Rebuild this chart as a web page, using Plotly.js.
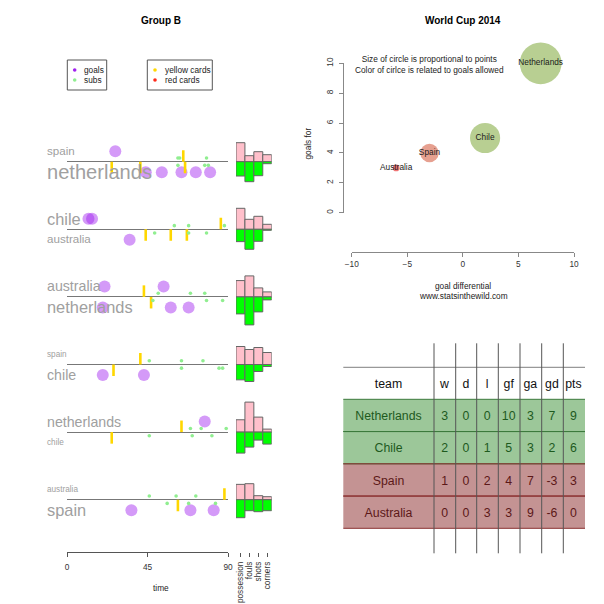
<!DOCTYPE html>
<html><head><meta charset="utf-8">
<script src="https://cdn.plot.ly/plotly-3.0.1.min.js"></script>
<style>html,body{margin:0;padding:0;background:#fff}#chart{width:604px;height:604px}</style>
</head><body><div id="chart"></div>
<script>
// ================= DATA =================
// Group B matches: top team listed first, bottom team second
const topTeams    = ['spain', 'chile', 'australia', 'spain', 'netherlands', 'australia'];
const bottomTeams = ['netherlands', 'australia', 'netherlands', 'chile', 'chile', 'spain'];

// goal minutes
const goalsTop    = [[27], [12, 14, 92], [21, 54], [], [77, 92], []];
const goalsBottom = [[44, 53, 64, 72, 80], [35], [20, 58, 68], [20, 43], [], [36, 69, 82]];

// yellow card minutes
const yellowTop    = [[65], [86], [43], [41], [64], [88, 92]];
const yellowBottom = [[25, 41, 66], [44, 58, 67], [47], [26], [25], [62]];

// substitution minutes
const subsTop    = [[62, 63, 78], [60, 68, 88], [51, 69, 77], [46, 64, 76], [69, 75, 89], [46, 61, 72]];
const subsBottom = [[62, 77, 79], [49, 68, 78], [48, 78, 87], [64, 85, 87], [46, 70, 81], [56, 68, 83]];

// match stats: possession (%), fouls, shots, corners
const statNames   = ['possession', 'fouls', 'shots', 'corners'];
const statsTop    = [[57, 6, 10, 7], [63, 10, 13, 5], [49, 21, 9, 5], [54, 15, 17, 12], [37, 30, 15, 3], [46, 16, 4, 3]];
const statsBottom = [[43, 20, 14, 2], [37, 20, 12, 1], [51, 28, 15, 3], [46, 17, 7, 2], [63, 15, 8, 12], [54, 11, 12, 11]];

const timeTicks = [0, 45, 90];

// group table
const teams = ['Netherlands', 'Chile', 'Spain', 'Australia'];
const won   = [3, 2, 1, 0];
const drawn = [0, 0, 0, 0];
const lost  = [0, 1, 2, 3];
const gf    = [10, 5, 4, 3];
const ga    = [3, 3, 7, 9];
const gdiff = [7, 2, -3, -6];
const pts   = [9, 6, 3, 0];
const tableHeaders = ['team', 'w', 'd', 'l', 'gf', 'ga', 'gd', 'pts'];

const gdTicks = [-10, -5, 0, 5, 10];
const gfTicks = [0, 2, 4, 6, 8, 10];

// ================= STYLE / LAYOUT =================
const W = 604, H = 604;
const fx = p => p / W;
const fy = p => 1 - p / H;
const FONT = 'Liberation Sans, Arial, Helvetica, sans-serif';
const FS = 8.3;

const rowY0 = 161.7, rowStep = 67.6, half = 33, unit = 10.5;
const statScale = [1 / 3, 1, 1, 1];
const goalColor = 'rgba(160,32,240,0.45)';
const subColor = '#90ee90';
const yellowColor = '#ffd700';
const labelColor = '#a0a0a0';
const gaColor = {3: '#b8cf92', 7: '#e6a090', 9: '#f07575'};

const traces = [];
const shapes = [];
const annotations = [];
const layout = {
  width: W, height: H, margin: {l: 0, r: 0, t: 0, b: 0},
  paper_bgcolor: '#fff', plot_bgcolor: 'rgba(0,0,0,0)',
  showlegend: false, barmode: 'overlay', bargap: 0,
  font: {family: FONT, size: FS, color: '#333'},
  shapes: shapes, annotations: annotations
};

// helper for paper-positioned text
function label(px, py, text, size, color, extra) {
  annotations.push(Object.assign({xref: 'paper', yref: 'paper', x: fx(px), y: fy(py), xanchor: 'center', yanchor: 'middle',
    text: text, showarrow: false, font: {family: FONT, size: size, color: color}}, extra || {}));
}

layout.xaxis = {
  domain: [fx(67), fx(228)], range: [0, 90], anchor: 'free', position: fy(552.3),
  tickmode: 'array', tickvals: timeTicks, ticks: 'outside', ticklen: 4, tickcolor: '#555', ticklabelstandoff: 3,
  showline: true, linecolor: '#555', linewidth: 1, showgrid: false, zeroline: false,
  tickfont: {family: FONT, size: FS, color: '#333'}
};
layout.xaxis2 = {
  domain: [fx(236), fx(271.7)], type: 'category', categoryorder: 'array', categoryarray: statNames,
  range: [-0.5, 3.5], anchor: 'free', position: fy(552.3),
  tickmode: 'array', tickvals: statNames, ticktext: statNames,
  ticks: 'outside', ticklen: 4, tickcolor: '#555', tickangle: -90, ticklabelstandoff: 1,
  showline: false, showgrid: false, zeroline: false,
  tickfont: {family: FONT, size: FS, color: '#333'}
};

const axKey = id => id === 'y' ? 'yaxis' : 'yaxis' + id.slice(1);
const sideText = (arr, s) => arr.map(() => s);
const cardXs = arr => { const o = []; arr.forEach(m => o.push(m, m, null)); return o; };
const cardYs = (arr, s) => { const o = []; arr.forEach(() => o.push(0, s * 1.1, null)); return o; };

for (let i = 0; i < 6; i++) {
  const cy = rowY0 + i * rowStep;
  const dom = [fy(cy + half), fy(cy - half)];
  const ty = i === 0 ? 'y' : 'y' + (i + 1);
  const by = 'y' + (i + 7);
  layout[axKey(ty)] = {
    domain: dom, range: [-half / unit, half / unit], anchor: 'x',
    showticklabels: false, ticks: '', showgrid: false, showline: false,
    zeroline: true, zerolinecolor: '#777', zerolinewidth: 1
  };
  layout[axKey(by)] = {
    domain: dom, range: [-half, half], anchor: 'x2',
    showticklabels: false, ticks: '', showgrid: false, showline: false, zeroline: false
  };

  // goals
  traces.push({x: goalsTop[i], y: sideText(goalsTop[i], 1), xaxis: 'x', yaxis: ty, type: 'scatter', mode: 'markers',
    marker: {size: 12, color: goalColor}, cliponaxis: false, hoverinfo: 'skip'});
  traces.push({x: goalsBottom[i], y: sideText(goalsBottom[i], -1), xaxis: 'x', yaxis: ty, type: 'scatter', mode: 'markers',
    marker: {size: 12, color: goalColor}, cliponaxis: false, hoverinfo: 'skip'});
  // yellow cards
  traces.push({x: cardXs(yellowTop[i]), y: cardYs(yellowTop[i], 1), xaxis: 'x', yaxis: ty, type: 'scatter', mode: 'lines',
    line: {color: yellowColor, width: 2.6}, cliponaxis: false, connectgaps: false, hoverinfo: 'skip'});
  traces.push({x: cardXs(yellowBottom[i]), y: cardYs(yellowBottom[i], -1), xaxis: 'x', yaxis: ty, type: 'scatter', mode: 'lines',
    line: {color: yellowColor, width: 2.6}, cliponaxis: false, connectgaps: false, hoverinfo: 'skip'});
  // subs
  traces.push({x: subsTop[i], y: sideText(subsTop[i], 0.35), xaxis: 'x', yaxis: ty, type: 'scatter', mode: 'markers',
    marker: {size: 3.6, color: subColor}, cliponaxis: false, hoverinfo: 'skip'});
  traces.push({x: subsBottom[i], y: sideText(subsBottom[i], -0.35), xaxis: 'x', yaxis: ty, type: 'scatter', mode: 'markers',
    marker: {size: 3.6, color: subColor}, cliponaxis: false, hoverinfo: 'skip'});

  // stats bars
  traces.push({type: 'bar', x: statNames, y: statsTop[i].map((v, k) => v * statScale[k]), xaxis: 'x2', yaxis: by,
    width: 1, marker: {color: '#ffc0cb', line: {color: '#666', width: 1}}, cliponaxis: false, hoverinfo: 'skip'});
  traces.push({type: 'bar', x: statNames, y: statsBottom[i].map((v, k) => -v * statScale[k]), xaxis: 'x2', yaxis: by,
    width: 1, marker: {color: '#00ff00', line: {color: '#666', width: 1}}, cliponaxis: false, hoverinfo: 'skip'});

  // team labels, size grows with goals scored
  const nTop = goalsTop[i].length, nBot = goalsBottom[i].length;
  label(45, cy - 10.5, topTeams[i], 8.2 * Math.sqrt(nTop + 1), labelColor, {xanchor: 'left'});
  label(45, cy + 10, bottomTeams[i], 8.2 * Math.sqrt(nBot + 1), labelColor, {xanchor: 'left'});
}

// titles
label(161, 20.7, '<b>Group B</b>', 10, '#000');
label(463.3, 20.7, '<b>World Cup 2014</b>', 10, '#000');
label(160.7, 588.3, 'time', FS, '#222');

// legend boxes
shapes.push({type: 'rect', xref: 'paper', yref: 'paper', x0: fx(67.3), x1: fx(106.7), y0: fy(90), y1: fy(60), line: {color: '#555', width: 1}});
shapes.push({type: 'rect', xref: 'paper', yref: 'paper', x0: fx(147.3), x1: fx(212.3), y0: fy(90), y1: fy(60), line: {color: '#555', width: 1}});
const legendItems = [
  {cx: 74.7, cy: 70, color: '#a020f0', text: 'goals'},
  {cx: 74.7, cy: 80, color: subColor, text: 'subs'},
  {cx: 155, cy: 70, color: yellowColor, text: 'yellow cards'},
  {cx: 155, cy: 80, color: '#ff2a1a', text: 'red cards'}
];
legendItems.forEach(it => {
  shapes.push({type: 'circle', xref: 'paper', yref: 'paper', x0: fx(it.cx - 1.8), x1: fx(it.cx + 1.8), y0: fy(it.cy + 1.8), y1: fy(it.cy - 1.8),
    fillcolor: it.color, line: {width: 0}});
  label(it.cx + 7.5, it.cy, it.text, FS, '#222', {xanchor: 'left'});
});

// ===== scatter (right top) =====
layout.xaxis3 = {
  domain: [fx(351.7), fx(574)], range: [-10, 10], anchor: 'free', position: fy(252.3),
  tickmode: 'array', tickvals: gdTicks, ticks: 'outside', ticklen: 4, tickcolor: '#888',
  showline: true, linecolor: '#888', showgrid: false, zeroline: false,
  tickfont: {family: FONT, size: FS, color: '#333'}
};
layout.yaxis13 = {
  domain: [fy(212.7), fy(63.3)], range: [0, 10], anchor: 'free', position: fx(343.3),
  tickmode: 'array', tickvals: gfTicks, ticks: 'outside', ticklen: 4, tickcolor: '#888', tickangle: -90, ticklabelstandoff: 3,
  showline: true, linecolor: '#888', showgrid: false, zeroline: false,
  tickfont: {family: FONT, size: FS, color: '#333'}
};
traces.push({type: 'scatter', mode: 'markers+text', x: gdiff, y: gf, text: teams, xaxis: 'x3', yaxis: 'y13',
  textposition: 'middle center', textfont: {family: FONT, size: FS, color: '#1a1a1a'},
  marker: {size: pts.map(p => 6.7 + 3.9 * p), color: ga.map(g => gaColor[g]), opacity: 1, line: {width: 0}},
  cliponaxis: false, hoverinfo: 'skip'});
label(429.7, 64.3, 'Size of circle is proportional to points<br>Color of cirlce is related to goals allowed', FS, '#222');
label(463, 286, 'goal differential', FS, '#222');
label(463, 296, 'www.statsinthewild.com', FS, '#222');
label(308.3, 143.3, 'goals for', FS, '#222', {textangle: -90});

// ===== table (right bottom) =====
const tLeft = 343.3, tRight = 585, tTop = 367.3, hdrH = 32, rowH = 32.25, textShift = 3.5;
const colW = [90.7, 21.7, 21, 21.6, 21.7, 21.7, 21.6, 21.7];
const advanced = pts.map((p, i) => i < 2);
const rowFill = advanced.map(a => a ? '#9cc799' : '#c49393');
const rowText = advanced.map(a => a ? '#1e5a1e' : '#5c1818');
const rowLine = advanced.map(a => a ? '#3c7a3c' : '#8a3030');
const tBottom = tTop + hdrH + teams.length * rowH;

teams.forEach((t, r) => {
  const y0 = tTop + hdrH + r * rowH;
  shapes.push({type: 'rect', layer: 'below', xref: 'paper', yref: 'paper', x0: fx(tLeft), x1: fx(tRight), y0: fy(y0 + rowH), y1: fy(y0),
    fillcolor: rowFill[r], line: {width: 0}});
});
shapes.push({type: 'line', xref: 'paper', yref: 'paper', x0: fx(tLeft), x1: fx(tRight), y0: fy(tTop), y1: fy(tTop), line: {color: '#999', width: 1.2}});
teams.forEach((t, r) => {
  const yb = tTop + hdrH + (r + 1) * rowH;
  const yt = tTop + hdrH + r * rowH;
  shapes.push({type: 'line', xref: 'paper', yref: 'paper', x0: fx(tLeft), x1: fx(tRight), y0: fy(yt), y1: fy(yt), line: {color: rowLine[r], width: 1}});
  shapes.push({type: 'line', xref: 'paper', yref: 'paper', x0: fx(tLeft), x1: fx(tRight), y0: fy(yb), y1: fy(yb), line: {color: rowLine[r], width: 1}});
});
const totW = colW.reduce((a, b) => a + b, 0);
let acc = 0;
for (let c = 0; c < colW.length - 1; c++) {
  acc += colW[c];
  const xp = tLeft + acc / totW * (tRight - tLeft);
  shapes.push({type: 'line', xref: 'paper', yref: 'paper', x0: fx(xp), x1: fx(xp), y0: fy(553.3), y1: fy(343.3), line: {color: '#555', width: 1}});
}
const clear = 'rgba(0,0,0,0)';
traces.push({type: 'table',
  domain: {x: [fx(tLeft), fx(tRight)], y: [fy(tBottom + textShift), fy(tTop + textShift)]},
  columnwidth: colW,
  header: {values: tableHeaders, height: hdrH, align: 'center', fill: {color: clear}, line: {color: clear, width: 0},
    font: {family: FONT, size: 12.3, color: '#111'}},
  cells: {values: [teams, won, drawn, lost, gf, ga, gdiff, pts], height: rowH, align: 'center',
    fill: {color: clear}, line: {color: clear, width: 0},
    font: {family: FONT, size: 12.3, color: tableHeaders.map(() => rowText)}}
});

Plotly.newPlot('chart', traces, layout, {staticPlot: true, displayModeBar: false});
</script>
</body></html>
